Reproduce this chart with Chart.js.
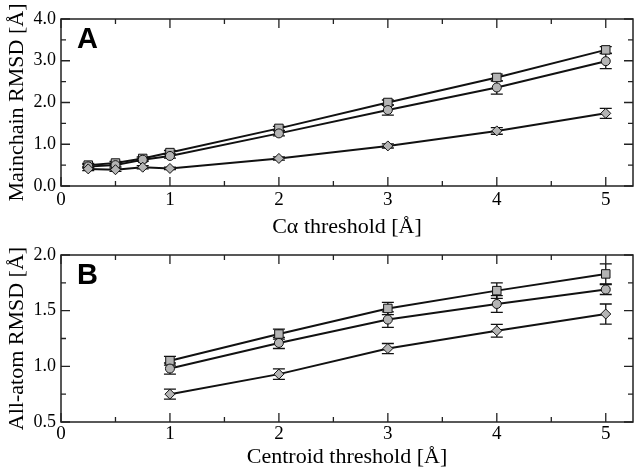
<!DOCTYPE html>
<html>
<head>
<meta charset="utf-8">
<script src="https://cdn.jsdelivr.net/npm/chart.js@4.4.1/dist/chart.umd.min.js"></script>
<style>
  body { margin: 0; background: #fff; }
  #wrap { position: relative; width: 640px; height: 473px; background: #fff; }
  canvas { position: absolute; left: 0; }
</style>
</head>
<body>
<div id="wrap">
  <canvas id="chart-a" width="640" height="237" style="top:0"></canvas>
  <canvas id="chart-b" width="640" height="236" style="top:237px"></canvas>
</div>
<script>
"use strict";

// Panel A data (C-alpha threshold)
var xA = [0.25, 0.5, 0.75, 1, 2, 3, 4, 5];
var squareA = [0.50, 0.55, 0.66, 0.80, 1.38, 2.00, 2.60, 3.26];
var circleA = [0.47, 0.50, 0.63, 0.72, 1.26, 1.82, 2.36, 2.99];
var diamondA = [0.41, 0.39, 0.45, 0.42, 0.66, 0.96, 1.32, 1.74];
var squareErrA = [0.04, 0.04, 0.04, 0.05, 0.05, 0.06, 0.08, 0.08];
var circleErrA = [0.04, 0.04, 0.04, 0.05, 0.06, 0.12, 0.16, 0.18];
var diamondErrA = [0.04, 0.04, 0.04, 0.03, 0.04, 0.05, 0.08, 0.12];

// Panel B data (centroid threshold)
var xB = [1, 2, 3, 4, 5];
var squareB = [1.05, 1.29, 1.52, 1.68, 1.83];
var circleB = [0.98, 1.21, 1.42, 1.56, 1.69];
var diamondB = [0.75, 0.93, 1.16, 1.32, 1.47];
var squareErrB = [0.04, 0.045, 0.055, 0.07, 0.09];
var circleErrB = [0.05, 0.05, 0.07, 0.075, 0.045];
var diamondErrB = [0.045, 0.048, 0.045, 0.057, 0.09];

var ink = "#111";
var fill = "#b4b4b4";
var serif = "'Liberation Serif', 'Times New Roman', serif";

function toPoints(xs, ys) {
    return xs.map(function (x, i) { return {x: x, y: ys[i]}; });
}

function series(xs, ys, errs, style, radius) {
    return {
        data: toPoints(xs, ys),
        errors: errs,
        showLine: true,
        borderColor: ink,
        borderWidth: 2,
        pointStyle: style,
        pointRadius: radius,
        pointBackgroundColor: fill,
        pointBorderColor: ink,
        pointBorderWidth: 1
    };
}

// Error bars, drawn under the markers
var errorBars = {
    id: "errorBars",
    beforeDatasetsDraw: function (chart) {
        var ctx = chart.ctx, xs = chart.scales.x, ys = chart.scales.y;
        ctx.save();
        ctx.strokeStyle = ink;
        ctx.lineWidth = 1.3;
        chart.data.datasets.forEach(function (ds) {
            ds.data.forEach(function (p, i) {
                var e = ds.errors[i];
                var px = xs.getPixelForValue(p.x);
                var top = ys.getPixelForValue(p.y + e);
                var bot = ys.getPixelForValue(p.y - e);
                ctx.beginPath();
                ctx.moveTo(px, top); ctx.lineTo(px, bot);
                ctx.moveTo(px - 6, top); ctx.lineTo(px + 6, top);
                ctx.moveTo(px - 6, bot); ctx.lineTo(px + 6, bot);
                ctx.stroke();
            });
        });
        ctx.restore();
    }
};

// Frame, inward ticks on all four sides, panel letter
var frame = {
    id: "frame",
    afterDraw: function (chart, args, opts) {
        var ctx = chart.ctx, a = chart.chartArea;
        var xs = chart.scales.x, ys = chart.scales.y;
        var v, p, len;
        ctx.save();
        ctx.strokeStyle = "#222";
        ctx.lineWidth = 1.5;
        ctx.strokeRect(a.left, a.top, a.right - a.left, a.bottom - a.top);
        ctx.lineWidth = 1.3;
        ctx.beginPath();
        for (v = xs.min; v <= xs.max + 1e-9; v += opts.xStep / 2) {
            p = xs.getPixelForValue(v);
            len = Math.abs(v / opts.xStep - Math.round(v / opts.xStep)) < 1e-6 ? 9 : 5;
            ctx.moveTo(p, a.bottom); ctx.lineTo(p, a.bottom - len);
            ctx.moveTo(p, a.top); ctx.lineTo(p, a.top + len);
        }
        for (v = ys.min; v <= ys.max + 1e-9; v += opts.yStep / 2) {
            p = ys.getPixelForValue(v);
            len = Math.abs((v - ys.min) / opts.yStep - Math.round((v - ys.min) / opts.yStep)) < 1e-6 ? 9 : 5;
            ctx.moveTo(a.left, p); ctx.lineTo(a.left + len, p);
            ctx.moveTo(a.right, p); ctx.lineTo(a.right - len, p);
        }
        ctx.stroke();
        ctx.fillStyle = "#000";
        ctx.font = "bold 29px 'Liberation Sans', Arial, sans-serif";
        ctx.textBaseline = "top";
        ctx.fillText(opts.letter, a.left + 16, a.top + 6);
        ctx.restore();
    }
};

function makeOptions(cfg) {
    return {
        responsive: false,
        animation: false,
        layout: {padding: {top: cfg.padTop, right: 3, left: 0, bottom: 0}},
        plugins: {
            legend: {display: false},
            tooltip: {enabled: false},
            frame: {letter: cfg.letter, xStep: 1, yStep: cfg.yStep}
        },
        scales: {
            x: {
                type: "linear",
                min: 0,
                max: 5.25,
                afterFit: function (s) { s.height = cfg.xHeight; },
                grid: {display: false, drawTicks: false},
                border: {display: false},
                ticks: {
                    stepSize: 1,
                    includeBounds: false,
                    padding: cfg.tickPad,
                    color: "#000",
                    font: {family: serif, size: 19},
                    callback: function (v) { return String(v); }
                },
                title: {
                    display: true,
                    text: cfg.xTitle,
                    color: "#000",
                    font: {family: serif, size: 22, lineHeight: 1},
                    padding: {top: 0, bottom: cfg.titlePad}
                }
            },
            y: {
                type: "linear",
                min: cfg.yMin,
                max: cfg.yMax,
                afterFit: function (s) { s.width = 61; },
                grid: {display: false, drawTicks: false},
                border: {display: false},
                ticks: {
                    stepSize: cfg.yStep,
                    padding: 5,
                    color: "#000",
                    font: {family: serif, size: 18},
                    callback: function (v) { return v.toFixed(1); }
                },
                title: {
                    display: true,
                    text: cfg.yTitle,
                    color: "#000",
                    font: {family: serif, size: 22, lineHeight: 1},
                    padding: {top: 6, bottom: 0}
                }
            }
        }
    };
}

// Panel A chart
new Chart(document.getElementById("chart-a"), {
    type: "scatter",
    data: {
        datasets: [
            series(xA, diamondA, diamondErrA, "rectRot", 5),
            series(xA, circleA, circleErrA, "circle", 4.5),
            series(xA, squareA, squareErrA, "rect", 6)
        ]
    },
    options: makeOptions({
        letter: "A", padTop: 19, xHeight: 51, titlePad: -1, tickPad: 3,
        yMin: 0, yMax: 4, yStep: 1,
        xTitle: "C\u03b1 threshold [\u00c5]",
        yTitle: "Mainchain RMSD [\u00c5]"
    }),
    plugins: [errorBars, frame]
});

// Panel B chart
new Chart(document.getElementById("chart-b"), {
    type: "scatter",
    data: {
        datasets: [
            series(xB, diamondB, diamondErrB, "rectRot", 5),
            series(xB, circleB, circleErrB, "circle", 4.5),
            series(xB, squareB, squareErrB, "rect", 6)
        ]
    },
    options: makeOptions({
        letter: "B", padTop: 18, xHeight: 51, titlePad: 5, tickPad: 1,
        yMin: 0.5, yMax: 2, yStep: 0.5,
        xTitle: "Centroid threshold [\u00c5]",
        yTitle: "All-atom RMSD [\u00c5]"
    }),
    plugins: [errorBars, frame]
});
</script>
</body>
</html>
